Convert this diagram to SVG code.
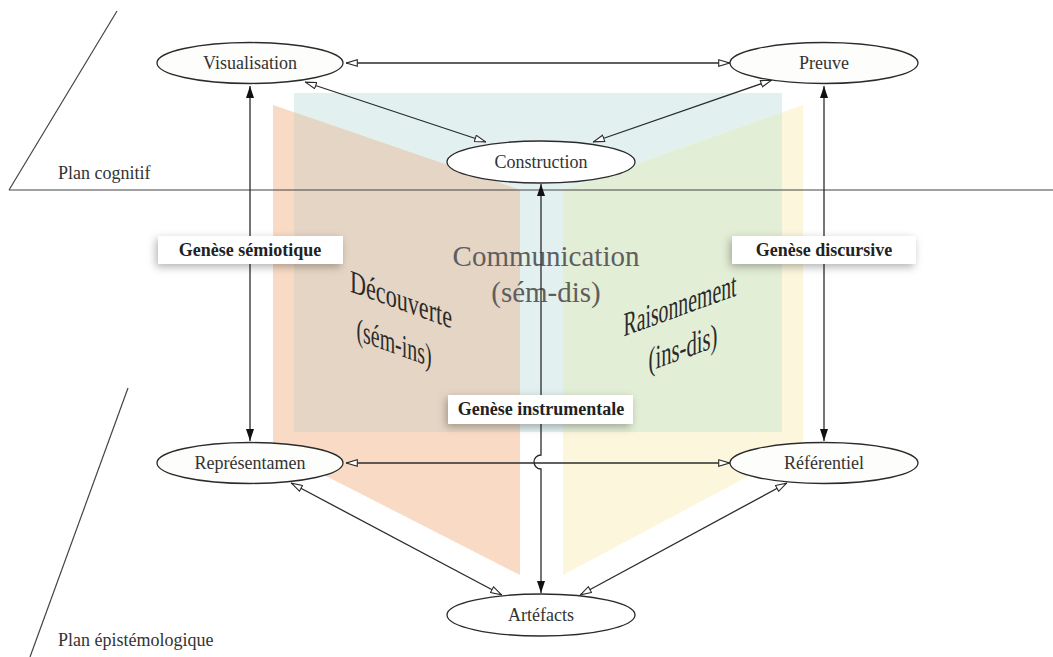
<svg xmlns="http://www.w3.org/2000/svg" width="1053" height="657" viewBox="0 0 1053 657">
<style>
.node ellipse{fill:#fdfdfb;stroke:#2b2b2b;stroke-width:1.3}
.node text{font-family:"Liberation Serif",serif;font-size:18px;fill:#333;text-anchor:middle}
.edge{fill:none;stroke:#2b2b2b;stroke-width:1.3}
.open{marker-start:url(#openHead);marker-end:url(#openHead)}
.solid{marker-start:url(#solidHead);marker-end:url(#solidHead)}
.plane{stroke:#444;stroke-width:1.2;fill:none}
.plabel{font-family:"Liberation Serif",serif;font-size:18px;fill:#333}
.glabel rect{fill:#fff;filter:url(#shadow)}
.glabel text{font-family:"Liberation Serif",serif;font-size:18px;font-weight:bold;fill:#222;text-anchor:middle}
.big{font-family:"Liberation Serif",serif;text-anchor:middle}
</style>
<defs>
<marker id="openHead" viewBox="0 0 12 8" refX="12" refY="4" markerWidth="12" markerHeight="8" markerUnits="userSpaceOnUse" orient="auto-start-reverse">
<path d="M0.7,0.7 L11.5,4 L0.7,7.3 z" fill="#fff" stroke="#2b2b2b" stroke-width="1.1"/>
</marker>
<marker id="solidHead" viewBox="0 0 12 8" refX="12" refY="4" markerWidth="12" markerHeight="8" markerUnits="userSpaceOnUse" orient="auto-start-reverse">
<path d="M0,0 L12,4 L0,8 z" fill="#111"/>
</marker>
<filter id="shadow" x="-20%" y="-60%" width="140%" height="220%">
<feDropShadow dx="-2" dy="3" stdDeviation="4" flood-color="#000" flood-opacity="0.3"/>
</filter>
<clipPath id="rectClip"><rect x="294" y="93" width="488" height="339"/></clipPath>
</defs>

<g id="background">
<rect x="294" y="93" width="488" height="339" fill="#e2f0f0"/>
<polygon points="273,105 520,190 520,575 273,449" fill="#f9dbc5"/>
<polygon points="803,105 563,190 563,575 803,447" fill="#fbf6dc"/>
<g clip-path="url(#rectClip)">
<polygon points="273,105 520,190 520,575 273,449" fill="#e5d5c4"/>
<polygon points="803,105 563,190 563,575 803,447" fill="#e3eed6"/>
</g>
</g>

<g id="planes">
<line class="plane" x1="117" y1="11" x2="9" y2="190"/>
<line class="plane" x1="9" y1="190" x2="1053" y2="190"/>
<line class="plane" x1="128" y1="388" x2="30" y2="657"/>
<text class="plabel" x="58" y="179">Plan cognitif</text>
<text class="plabel" x="58" y="646">Plan épistémologique</text>
</g>

<g id="page-labels">
<text class="big" x="546" y="266" font-size="29" fill="#5e5e5e">Communication</text>
<text class="big" x="546" y="302" font-size="29" fill="#5e5e5e">(sém-dis)</text>
<g transform="translate(401,310) skewY(20)">
<text class="big" x="0" y="0" font-size="32" fill="#2a2a2a" textLength="102" lengthAdjust="spacingAndGlyphs">Découverte</text>
<text class="big" x="-7" y="46" font-size="32" fill="#2a2a2a" textLength="75" lengthAdjust="spacingAndGlyphs">(sém-ins)</text>
</g>
<g transform="translate(680,316) skewY(-20)">
<text class="big" x="0" y="0" font-size="34" fill="#2a2a2a" textLength="113" lengthAdjust="spacingAndGlyphs">Raisonnement</text>
<text class="big" x="3" y="44" font-size="34" fill="#2a2a2a" textLength="69" lengthAdjust="spacingAndGlyphs">(ins-dis)</text>
</g>
</g>

<g id="connectors">
<line class="edge open" x1="346" y1="63" x2="730" y2="63"/>
<line class="edge open" x1="305" y1="82" x2="486" y2="142"/>
<line class="edge open" x1="772" y1="80" x2="593" y2="142"/>
<line class="edge solid" x1="250" y1="86" x2="250" y2="441"/>
<line class="edge solid" x1="824" y1="86" x2="824" y2="441"/>
<path class="edge solid" d="M541,184 L541,455 A7,7 0 0 0 541,469 L541,593"/>
<line class="edge open" x1="346" y1="463" x2="730" y2="463"/>
<line class="edge open" x1="291" y1="483" x2="502" y2="595"/>
<line class="edge open" x1="787" y1="483" x2="580" y2="595"/>
</g>

<g id="node-visualisation" class="node">
<ellipse cx="250" cy="63" rx="93" ry="20.5"/>
<text x="250" y="69">Visualisation</text>
</g>
<g id="node-preuve" class="node">
<ellipse cx="824" cy="63" rx="94" ry="20.5"/>
<text x="824" y="69">Preuve</text>
</g>
<g id="node-construction" class="node">
<ellipse cx="541" cy="162" rx="94" ry="21" style="fill:#fff"/>
<text x="541" y="168">Construction</text>
</g>
<g id="node-representamen" class="node">
<ellipse cx="250" cy="463" rx="93" ry="20.5"/>
<text x="250" y="469">Représentamen</text>
</g>
<g id="node-referentiel" class="node">
<ellipse cx="824" cy="463" rx="94" ry="20.5"/>
<text x="824" y="469">Référentiel</text>
</g>
<g id="node-artefacts" class="node">
<ellipse cx="541" cy="615" rx="94" ry="21" style="fill:#fff"/>
<text x="541" y="621">Artéfacts</text>
</g>

<g id="label-semiotique" class="glabel">
<rect x="158" y="236" width="185" height="28"/>
<text x="250" y="256">Genèse sémiotique</text>
</g>
<g id="label-discursive" class="glabel">
<rect x="732" y="236" width="184" height="28"/>
<text x="824" y="256">Genèse discursive</text>
</g>
<g id="label-instrumentale" class="glabel">
<rect x="448" y="395" width="185" height="29"/>
<text x="541" y="415">Genèse instrumentale</text>
</g>
</svg>
